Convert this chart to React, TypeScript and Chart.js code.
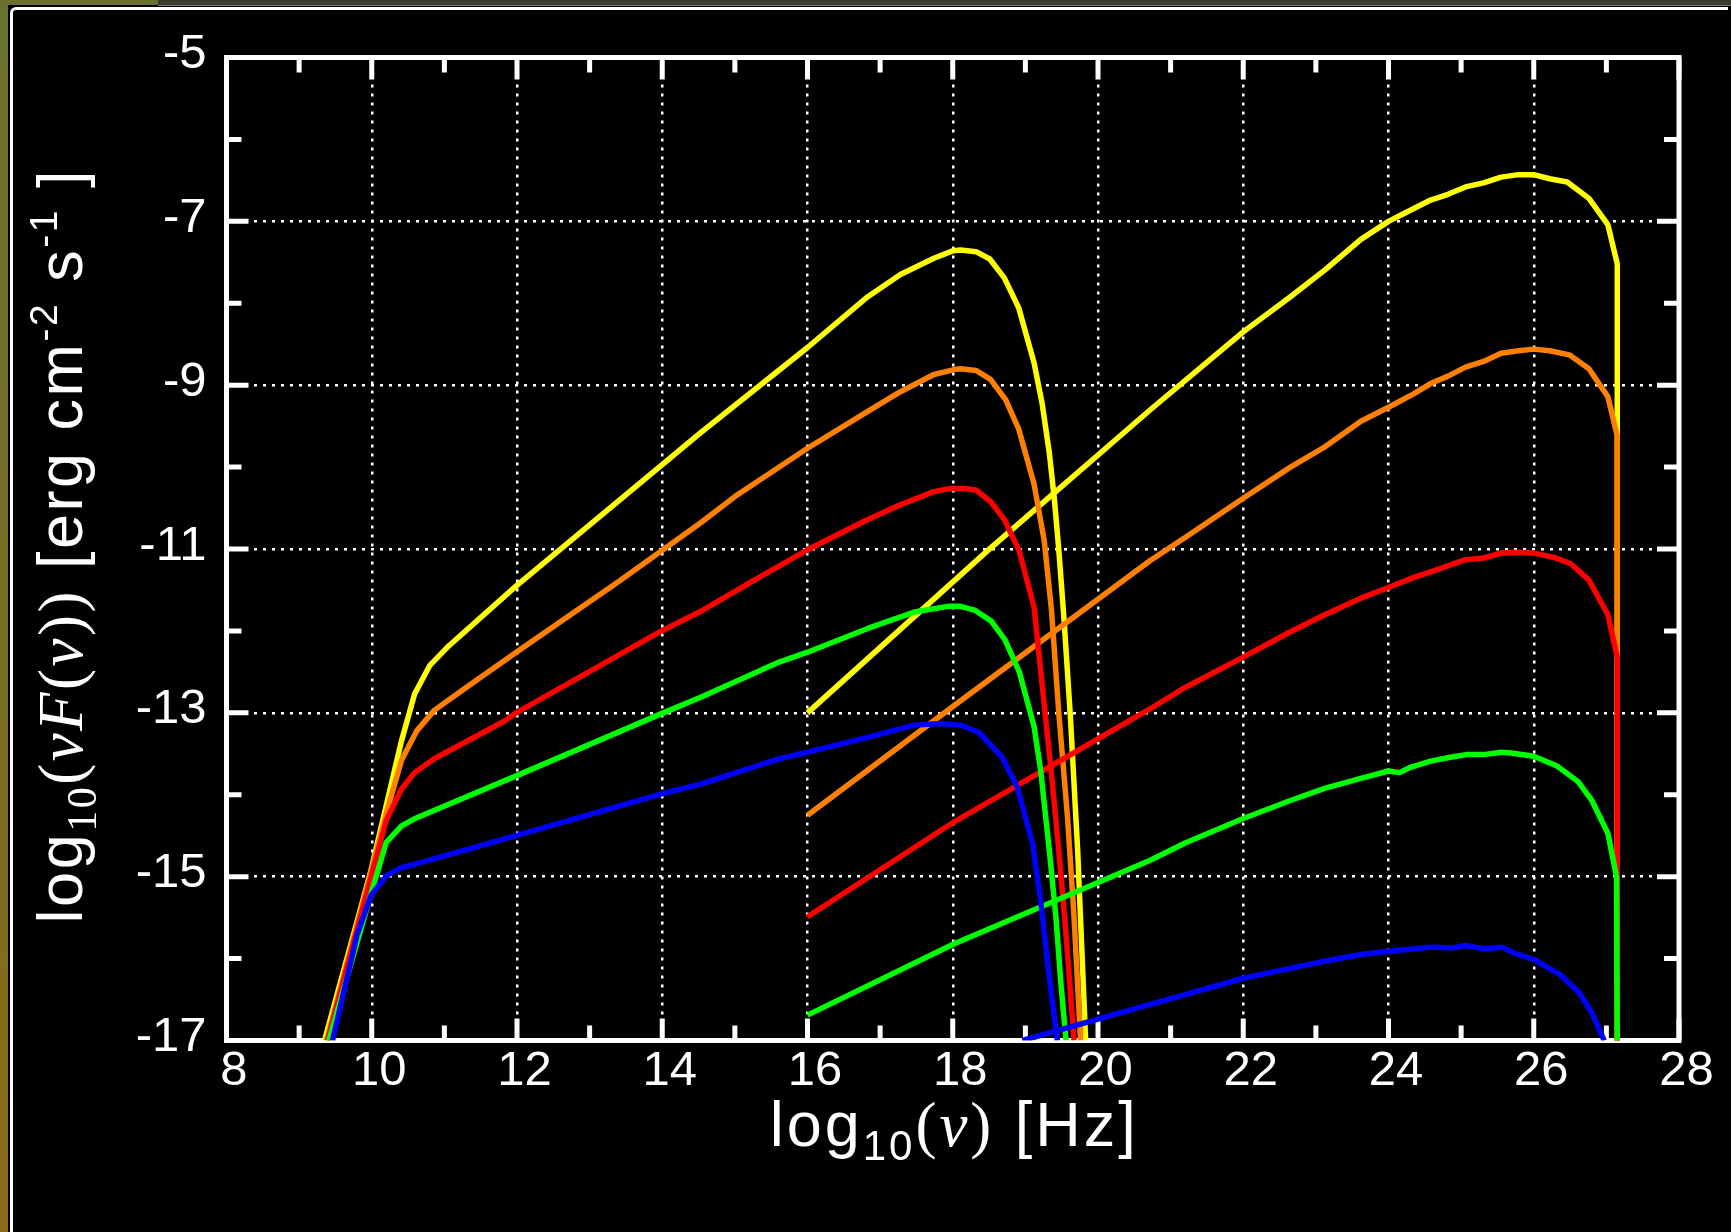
import React, { useEffect, useRef } from 'react';
import { Chart, registerables } from 'chart.js';

Chart.register(...registerables);

const W = 1731;
const H = 1232;

// axis ranges and ticks
const X_MIN = 8;
const X_MAX = 28;
const Y_MIN = -17;
const Y_MAX = -5;
const xMajorTicks = [8, 10, 12, 14, 16, 18, 20, 22, 24, 26, 28];
const xMinorTicks = [9, 11, 13, 15, 17, 19, 21, 23, 25, 27];
const yMajorTicks = [-17, -15, -13, -11, -9, -7, -5];
const yMinorTicks = [-16, -14, -12, -10, -8, -6];

// synchrotron components  [log10(nu), log10(nuF(nu))]
const yellowSync: [number, number][] = [
  [9.35, -17.0], [9.99, -14.92], [10.41, -13.34], [10.59, -12.77], [10.8, -12.42], [11.04, -12.2],
  [11.99, -11.45], [14.53, -9.58], [16.0, -8.54], [16.83, -7.92], [17.28, -7.65], [17.74, -7.45],
  [18.0, -7.36], [18.11, -7.35], [18.32, -7.37], [18.51, -7.46], [18.71, -7.69], [18.91, -8.06],
  [19.12, -8.73], [19.23, -9.22], [19.33, -9.83], [19.4, -10.4], [19.46, -11.01], [19.53, -11.83],
  [19.62, -13.05], [19.72, -14.68], [19.83, -17.0],
];
const orangeSync: [number, number][] = [
  [9.38, -17.0], [10.2, -14.23], [10.41, -13.58], [10.62, -13.22], [10.86, -12.97], [11.3, -12.69],
  [11.99, -12.26], [13.41, -11.39], [14.53, -10.68], [15.0, -10.36], [16.0, -9.77], [16.83, -9.32],
  [17.28, -9.08], [17.74, -8.87], [18.02, -8.81], [18.11, -8.8], [18.32, -8.82], [18.52, -8.93],
  [18.73, -9.18], [18.91, -9.54], [19.12, -10.21], [19.26, -10.9], [19.36, -11.75], [19.46, -13.0],
  [19.58, -14.27], [19.67, -15.49], [19.76, -17.0],
];
const redSync: [number, number][] = [
  [9.39, -17.0], [10.2, -14.31], [10.41, -13.93], [10.59, -13.73], [10.86, -13.56], [11.83, -13.1],
  [11.99, -13.0], [13.99, -12.0], [14.53, -11.76], [15.25, -11.39], [16.0, -11.01], [16.83, -10.64],
  [17.28, -10.46], [17.74, -10.3], [17.97, -10.26], [18.16, -10.26], [18.32, -10.28], [18.52, -10.42],
  [18.71, -10.64], [18.91, -11.01], [19.12, -11.71], [19.23, -12.65], [19.35, -13.66], [19.46, -14.68],
  [19.56, -15.7], [19.67, -17.0],
];
const greenSync: [number, number][] = [
  [9.41, -17.0], [9.99, -15.21], [10.2, -14.58], [10.41, -14.38], [10.62, -14.28], [11.99, -13.77],
  [13.99, -13.01], [14.53, -12.81], [15.61, -12.38], [16.0, -12.26], [16.83, -11.97], [17.47, -11.77],
  [17.93, -11.7], [18.11, -11.7], [18.31, -11.75], [18.53, -11.88], [18.72, -12.11], [18.92, -12.51],
  [19.12, -13.17], [19.21, -13.7], [19.33, -14.68], [19.42, -15.49], [19.49, -16.31], [19.56, -17.0],
];
const blueSync: [number, number][] = [
  [9.46, -17.0], [9.8, -15.7], [9.99, -15.23], [10.2, -14.99], [10.41, -14.89], [10.78, -14.8],
  [11.99, -14.5], [13.99, -13.99], [14.53, -13.87], [15.61, -13.56], [16.0, -13.48], [16.83, -13.3],
  [17.47, -13.15], [17.84, -13.13], [18.11, -13.15], [18.36, -13.24], [18.68, -13.54], [18.89, -13.91],
  [19.1, -14.6], [19.21, -15.29], [19.33, -16.23], [19.44, -17.0],
];

// inverse-Compton components
const yellowIC: [number, number][] = [
  [16.0, -13.0], [18.48, -11.02], [20.72, -9.3], [22.0, -8.35], [22.65, -7.92], [23.13, -7.59],
  [23.62, -7.22], [24.0, -7.0], [24.2, -6.91], [24.58, -6.74], [24.82, -6.67], [25.06, -6.58],
  [25.31, -6.53], [25.55, -6.46], [25.79, -6.43], [26.0, -6.43], [26.22, -6.48], [26.46, -6.52],
  [26.76, -6.72], [27.02, -7.04], [27.15, -7.52], [27.15, -17.0],
];
const orangeIC: [number, number][] = [
  [16.0, -14.25], [18.02, -12.91], [20.72, -11.14], [21.2, -10.86], [22.0, -10.38], [22.65, -10.0],
  [23.13, -9.75], [23.62, -9.44], [24.0, -9.27], [24.34, -9.11], [24.58, -8.98], [24.82, -8.89],
  [25.06, -8.78], [25.31, -8.71], [25.55, -8.61], [25.79, -8.58], [26.0, -8.56], [26.22, -8.58],
  [26.49, -8.63], [26.76, -8.8], [27.02, -9.14], [27.15, -9.62], [27.15, -17.0],
];
const redIC: [number, number][] = [
  [16.0, -15.49], [18.02, -14.33], [20.72, -12.95], [21.2, -12.69], [22.0, -12.32], [22.65, -12.01],
  [23.13, -11.8], [23.62, -11.6], [24.0, -11.47], [24.34, -11.35], [24.68, -11.25], [25.06, -11.13],
  [25.31, -11.11], [25.55, -11.05], [25.79, -11.04], [26.0, -11.05], [26.27, -11.1], [26.51, -11.18],
  [26.76, -11.38], [27.02, -11.8], [27.15, -12.32], [27.15, -17.0],
];
const greenIC: [number, number][] = [
  [16.0, -16.69], [18.02, -15.82], [20.72, -14.8], [21.2, -14.59], [22.0, -14.29], [22.65, -14.07],
  [23.13, -13.92], [23.62, -13.8], [24.0, -13.71], [24.15, -13.73], [24.29, -13.67], [24.58, -13.59],
  [24.87, -13.54], [25.07, -13.51], [25.31, -13.51], [25.55, -13.48], [25.69, -13.49], [26.0, -13.53],
  [26.32, -13.65], [26.61, -13.84], [26.8, -14.07], [27.02, -14.47], [27.14, -15.0], [27.15, -17.0],
];
const blueIC: [number, number][] = [
  [18.96, -17.0], [20.72, -16.56], [21.2, -16.44], [22.0, -16.24], [22.65, -16.12], [23.13, -16.03],
  [23.62, -15.95], [24.0, -15.91], [24.58, -15.86], [24.87, -15.87], [25.07, -15.84], [25.33, -15.88],
  [25.57, -15.86], [25.72, -15.93], [26.0, -16.01], [26.37, -16.2], [26.63, -16.42], [26.8, -16.66],
  [26.97, -17.0],
];

const seriesList: { sync: [number, number][]; ic: [number, number][]; color: string; order: number }[] = [
  { sync: yellowSync, ic: yellowIC, color: '#ffff00', order: 5 },
  { sync: orangeSync, ic: orangeIC, color: '#ff8000', order: 4 },
  { sync: redSync, ic: redIC, color: '#ff0000', order: 3 },
  { sync: greenSync, ic: greenIC, color: '#00ff00', order: 2 },
  { sync: blueSync, ic: blueIC, color: '#0000ff', order: 1 },
];

const SANS = '"Liberation Sans", Arial, Helvetica, sans-serif';
const SERIF = '"Liberation Serif", "DejaVu Serif", "Times New Roman", serif';

type Run = { t: string; f: string; dy?: number };

function drawRuns(ctx: CanvasRenderingContext2D, runs: Run[], x: number, y: number, rot: number, spacing: number) {
  ctx.save();
  ctx.translate(x, y);
  if (rot) ctx.rotate(rot);
  ctx.textBaseline = 'alphabetic';
  ctx.textAlign = 'left';
  ctx.fillStyle = '#ffffff';
  let total = 0;
  let count = 0;
  for (const r of runs) {
    ctx.font = r.f;
    for (const ch of Array.from(r.t)) {
      total += ctx.measureText(ch).width;
      count++;
    }
  }
  total += spacing * (count - 1);
  let cx = -total / 2;
  for (const r of runs) {
    ctx.font = r.f;
    for (const ch of Array.from(r.t)) {
      ctx.fillText(ch, cx, r.dy || 0);
      cx += ctx.measureText(ch).width + spacing;
    }
  }
  ctx.restore();
}

const framePlugin = {
  id: 'gnuplotFrame',
  beforeDatasetsDraw(chart: any) {
    const ctx: CanvasRenderingContext2D = chart.ctx;
    const { left, right, top, bottom } = chart.chartArea;
    const xs = chart.scales.x;
    const ys = chart.scales.y;
    const MAJ = 22;
    const MIN = 15;
    ctx.save();
    ctx.strokeStyle = '#ffffff';
    ctx.lineWidth = 5;
    ctx.lineCap = 'butt';
    const tickX = (v: number, len: number) => {
      const px = xs.getPixelForValue(v);
      ctx.beginPath();
      ctx.moveTo(px, bottom);
      ctx.lineTo(px, bottom - len);
      ctx.moveTo(px, top);
      ctx.lineTo(px, top + len);
      ctx.stroke();
    };
    const tickY = (v: number, len: number) => {
      const py = ys.getPixelForValue(v);
      ctx.beginPath();
      ctx.moveTo(left, py);
      ctx.lineTo(left + len, py);
      ctx.moveTo(right, py);
      ctx.lineTo(right - len, py);
      ctx.stroke();
    };
    xMajorTicks.forEach((v) => tickX(v, MAJ));
    xMinorTicks.forEach((v) => tickX(v, MIN));
    yMajorTicks.forEach((v) => tickY(v, MAJ));
    yMinorTicks.forEach((v) => tickY(v, MIN));
    ctx.lineJoin = 'miter';
    ctx.strokeRect(left, top, right - left, bottom - top);
    ctx.restore();
  },
  afterDraw(chart: any) {
    const ctx: CanvasRenderingContext2D = chart.ctx;
    const { left, right, top, bottom } = chart.chartArea;
    const S = 63;
    const sans = `${S}px ${SANS}`;
    const sub = `${Math.round(S * 0.66)}px ${SANS}`;
    const subSerif = `${Math.round(S * 0.66)}px ${SERIF}`;
    const serif = `${S}px ${SERIF}`;
    const ital = `italic ${S}px ${SERIF}`;
    const sup = `${Math.round(S * 0.62)}px ${SANS}`;
    const xRuns: Run[] = [
      { t: 'log', f: sans },
      { t: '10', f: sub, dy: S * 0.22 },
      { t: '(', f: serif },
      { t: 'ν', f: ital },
      { t: ')', f: serif },
      { t: ' [Hz]', f: sans },
    ];
    drawRuns(ctx, xRuns, (left + right) / 2, 1146, 0, 3);
    const yRuns: Run[] = [
      { t: 'log', f: sans },
      { t: '10', f: subSerif, dy: S * 0.22 },
      { t: '(', f: serif },
      { t: 'νF', f: ital },
      { t: '(', f: serif },
      { t: 'ν', f: ital },
      { t: '))', f: serif },
      { t: ' [erg cm', f: sans },
      { t: '-2', f: sup, dy: -S * 0.4 },
      { t: ' s', f: sans },
      { t: '-1', f: sup, dy: -S * 0.4 },
      { t: ' ]', f: sans },
    ];
    drawRuns(ctx, yRuns, 82, (top + bottom) / 2 - 2, -Math.PI / 2, 2.5);
  },
};

export default function App() {
  const canvasRef = useRef<HTMLCanvasElement | null>(null);

  useEffect(() => {
    document.body.style.margin = '0';
    document.body.style.background = '#000';
    const canvas = canvasRef.current;
    if (!canvas) return;
    const datasets: any[] = [];
    seriesList.forEach((s) => {
      [s.sync, s.ic].forEach((pts) => {
        datasets.push({
          data: pts.map(([x, y]) => ({ x, y })),
          borderColor: s.color,
          backgroundColor: s.color,
          borderWidth: 5.5,
          pointRadius: 0,
          pointHoverRadius: 0,
          tension: 0,
          fill: false,
          order: s.order,
          borderJoinStyle: 'round',
          borderCapStyle: 'butt',
        });
      });
    });

    const gridColor = (ctx: any, lo: number, hi: number) => {
      const v = ctx.tick ? ctx.tick.value : NaN;
      return v === lo || v === hi ? 'rgba(0,0,0,0)' : '#ffffff';
    };

    const chart = new Chart(canvas, {
      type: 'line',
      data: { datasets },
      plugins: [framePlugin],
      options: {
        animation: false,
        responsive: false,
        devicePixelRatio: 1,
        events: [],
        layout: { padding: { top: 57.5, right: 52, bottom: 0, left: 0 } },
        plugins: { legend: { display: false }, tooltip: { enabled: false }, title: { display: false } },
        scales: {
          x: {
            type: 'linear',
            min: X_MIN,
            max: X_MAX,
            afterBuildTicks: (scale: any) => {
              scale.ticks = xMajorTicks.map((v) => ({ value: v }));
            },
            afterFit: (scale: any) => {
              scale.height = H - 1040.5;
            },
            ticks: {
              color: '#ffffff',
              font: { family: SANS, size: 49 },
              padding: 2,
              labelOffset: 7.5,
              maxRotation: 0,
              minRotation: 0,
              autoSkip: false,
              callback: (v: any) => String(v),
            },
            grid: {
              color: (ctx: any) => gridColor(ctx, X_MIN, X_MAX),
              lineWidth: 2.5,
              drawTicks: false,
            },
            border: { display: false, dash: [3, 6] },
          },
          y: {
            type: 'linear',
            min: Y_MIN,
            max: Y_MAX,
            afterBuildTicks: (scale: any) => {
              scale.ticks = yMajorTicks.map((v) => ({ value: v }));
            },
            afterFit: (scale: any) => {
              scale.width = 226.5;
            },
            ticks: {
              color: '#ffffff',
              font: { family: SANS, size: 49 },
              padding: 20,
              labelOffset: -3,
              autoSkip: false,
              callback: (v: any) => String(v),
            },
            grid: {
              color: (ctx: any) => gridColor(ctx, Y_MIN, Y_MAX),
              lineWidth: 2.5,
              drawTicks: false,
            },
            border: { display: false, dash: [3, 6] },
          },
        },
      } as any,
    });
    return () => chart.destroy();
  }, []);

  return (
    <div
      style={{
        position: 'fixed',
        left: 0,
        top: 0,
        width: W,
        height: H,
        background: '#000000',
        overflow: 'hidden',
      }}
    >
      <div style={{ position: 'absolute', left: 0, top: 0, width: 158, height: 5, background: '#6a712f' }} />
      <div style={{ position: 'absolute', left: 158, top: 0, width: W - 158, height: 5, background: '#3a3a31' }} />
      <div style={{ position: 'absolute', left: 158, top: 5, width: W - 158, height: 1, background: '#77776e' }} />
      <div
        style={{
          position: 'absolute',
          left: 0,
          top: 0,
          width: 8,
          height: H,
          background: 'linear-gradient(#6a712f, #7a6d22 60%, #8b6a16)',
        }}
      />
      <div
        style={{
          position: 'absolute',
          left: 10,
          top: 7,
          width: W - 13,
          height: H,
          borderTop: '3px solid #ffffff',
          borderLeft: '3px solid #ffffff',
          borderTopLeftRadius: 6,
          boxSizing: 'border-box',
        }}
      />
      <canvas
        ref={canvasRef}
        width={W}
        height={H}
        style={{ position: 'absolute', left: 0, top: 0, width: W, height: H }}
      />
    </div>
  );
}
